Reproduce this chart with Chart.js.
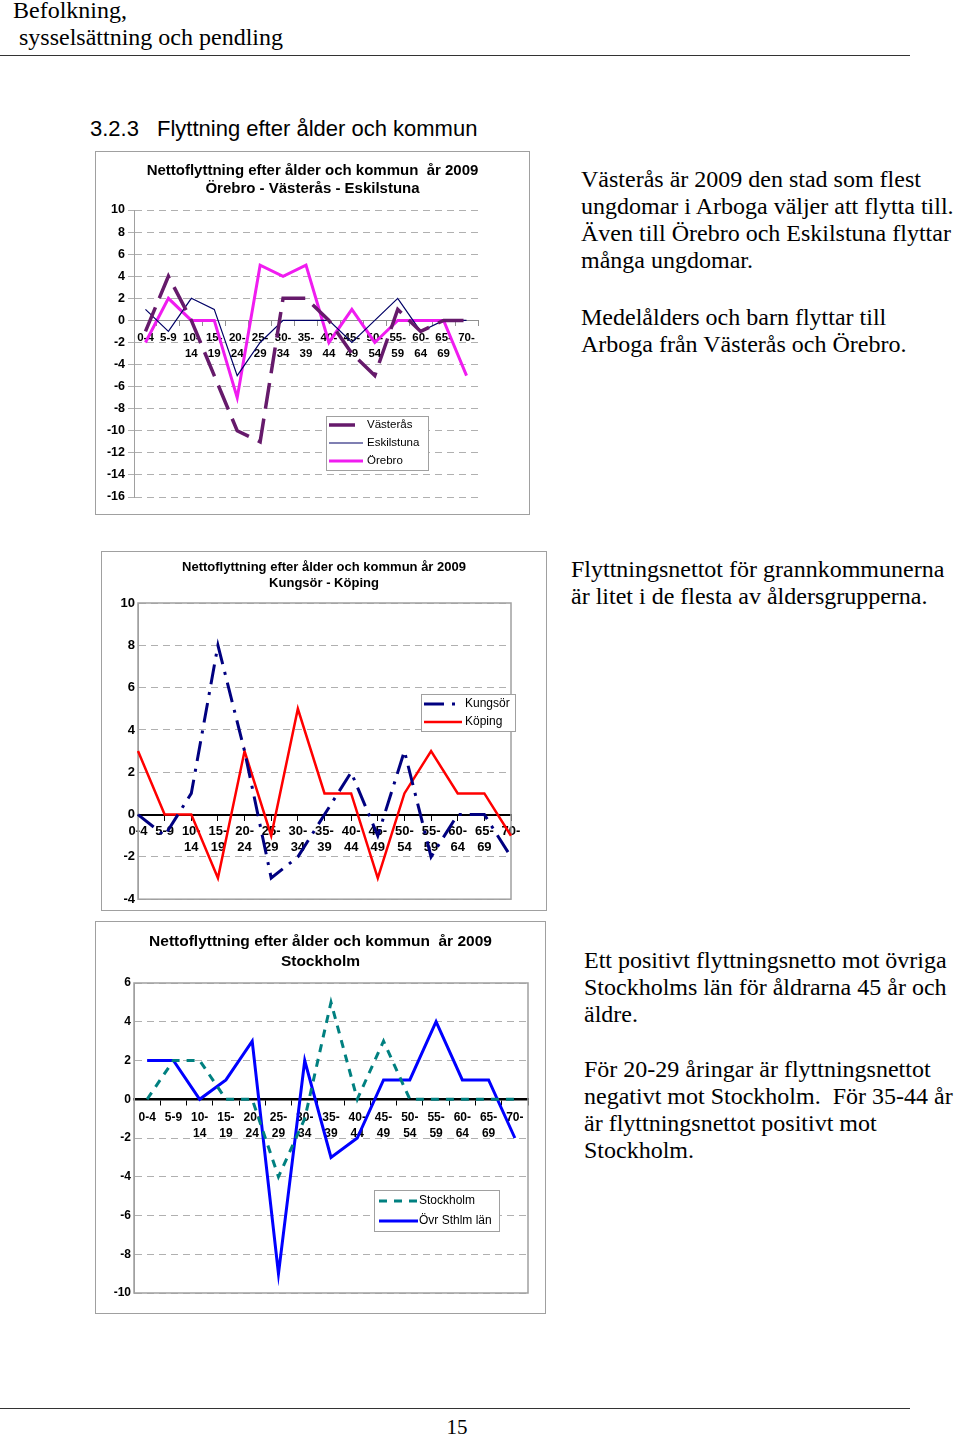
<!DOCTYPE html>
<html>
<head>
<meta charset="utf-8">
<script src="https://cdn.jsdelivr.net/npm/chart.js@4.4.0/dist/chart.umd.min.js"></script>
<style>
  body { margin: 0; width: 960px; height: 1438px; position: relative; background: #fff; overflow: hidden; }
  .t { position: absolute; white-space: nowrap; font-family: "Liberation Serif", serif; font-size: 24px; line-height: 28px; color: #000; }
  .h { position: absolute; white-space: nowrap; font-family: "Liberation Sans", Arial, sans-serif; font-size: 22px; line-height: 26px; color: #000; }
  .box { position: absolute; border: 1px solid #a0a0a0; box-sizing: border-box; background: #fff; }
  .box canvas { display: block; }
  .rule { position: absolute; left: 0; width: 910px; height: 0; border-top: 1px solid #333; }
</style>
</head>
<body>

<div class="t" style="left:13px;top:-4px">Befolkning,</div>
<div class="t" style="left:13px;top:23px">&nbsp;sysselsättning och pendling</div>
<div class="rule" style="top:55px"></div>

<div class="h" style="left:90px;top:116px">3.2.3</div>
<div class="h" style="left:157px;top:116px">Flyttning efter ålder och kommun</div>

<div class="box" style="left:95px;top:151px;width:435px;height:364px"><canvas id="c1" width="433" height="362"></canvas></div>
<div class="box" style="left:101px;top:551px;width:446px;height:360px"><canvas id="c2" width="444" height="358"></canvas></div>
<div class="box" style="left:95px;top:921px;width:451px;height:393px"><canvas id="c3" width="449" height="391"></canvas></div>

<div class="t" style="left:581px;top:165px">Västerås är 2009 den stad som flest</div>
<div class="t" style="left:581px;top:192px">ungdomar i Arboga väljer att flytta till.</div>
<div class="t" style="left:581px;top:219px">Även till Örebro och Eskilstuna flyttar</div>
<div class="t" style="left:581px;top:246px">många ungdomar.</div>
<div class="t" style="left:581px;top:303px">Medelålders och barn flyttar till</div>
<div class="t" style="left:581px;top:330px">Arboga från Västerås och Örebro.</div>

<div class="t" style="left:571px;top:555px">Flyttningsnettot för grannkommunerna</div>
<div class="t" style="left:571px;top:582px">är litet i de flesta av åldersgrupperna.</div>

<div class="t" style="left:584px;top:946px">Ett positivt flyttningsnetto mot övriga</div>
<div class="t" style="left:584px;top:973px">Stockholms län för åldrarna 45 år och</div>
<div class="t" style="left:584px;top:1000px">äldre.</div>
<div class="t" style="left:584px;top:1055px">För 20-29 åringar är flyttningsnettot</div>
<div class="t" style="left:584px;top:1082px">negativt mot Stockholm.&nbsp; För 35-44 år</div>
<div class="t" style="left:584px;top:1109px">är flyttningsnettot positivt mot</div>
<div class="t" style="left:584px;top:1136px">Stockholm.</div>

<div class="rule" style="top:1408px"></div>
<div class="t" style="left:417px;width:80px;text-align:center;top:1413px;font-size:21px">15</div>

<script>
// age groups (x categories)
const ageGroups = ['0-4', '5-9', '10-14', '15-19', '20-24', '25-29', '30-34', '35-39',
  '40-44', '45-49', '50-54', '55-59', '60-64', '65-69', '70-'];

// chart 1: Örebro - Västerås - Eskilstuna
const vasteras = [-1, 4, 0, -5, -10, -11, 2, 2, 0, -3, -5, 1, -1, 0, 0];
const eskilstuna = [1, -1, 2, 1, -5, -2, 0, 0, 0, -2, 0, 2, -1, 0, 0];
const orebro = [-2, 2, 0, 0, -7, 5, 4, 5, -2, 1, -2, 0, 0, 0, -5];
const yRange1 = [-16, 10];

// chart 2: Kungsör - Köping
const kungsor = [0, -1, 1, 8, 3, -3, -2, 0, 2, -1, 3, -2, 0, 0, -2];
const koping = [3, 0, 0, -3, 3, -1, 5, 1, 1, -3, 1, 3, 1, 1, -1];
const yRange2 = [-4, 10];

// chart 3: Stockholm
const stockholm = [0, 2, 2, 0, 0, -4, -1, 5, 0, 3, 0, 0, 0, 0, 0];
const ovrSthlm = [2, 2, 0, 1, 3, -9, 2, -3, -2, 1, 1, 4, 1, 1, -2];
const yRange3 = [-10, 6];

const FONT = 'Liberation Sans';

// split "10-14" into two lines like the original
function twoLines(v) {
  const s = this.getLabelForValue(v);
  const i = s.indexOf('-');
  return s.length > 3 ? [s.slice(0, i + 1), s.slice(i + 1)] : s;
}

// gray frame round the plot area
const plotFrame = {
  id: 'plotFrame',
  beforeDatasetsDraw(chart, args, o) {
    if (!o.color) return;
    const { left, top, right, bottom } = chart.chartArea;
    const ctx = chart.ctx;
    ctx.save();
    ctx.strokeStyle = o.color;
    ctx.lineWidth = 1.5;
    ctx.strokeRect(left, top, right - left, bottom - top);
    ctx.restore();
  }
};

// legend in a box inside the plot, like Excel
const boxLegend = {
  id: 'boxLegend',
  afterDatasetsDraw(chart, args, o) {
    const ctx = chart.ctx;
    ctx.save();
    ctx.fillStyle = '#fff';
    ctx.fillRect(o.x, o.y, o.w, o.h);
    ctx.strokeStyle = '#a0a0a0';
    ctx.lineWidth = 1;
    ctx.strokeRect(o.x + 0.5, o.y + 0.5, o.w, o.h);
    chart.data.datasets.forEach((ds, i) => {
      const y = o.y + o.first + i * o.row;
      ctx.beginPath();
      ctx.setLineDash(ds.borderDash || []);
      ctx.strokeStyle = ds.borderColor;
      ctx.lineWidth = ds.borderWidth;
      ctx.moveTo(o.x + o.lx, y);
      ctx.lineTo(o.x + o.lx + o.len, y);
      ctx.stroke();
      ctx.setLineDash([]);
      ctx.fillStyle = '#000';
      ctx.font = o.size + 'px ' + FONT;
      ctx.textBaseline = 'middle';
      ctx.fillText(ds.label, o.x + o.tx, y);
    });
    ctx.restore();
  }
};

function makeChart(id, cfg) {
  const ctx = document.getElementById(id);
  return new Chart(ctx, {
    type: 'line',
    data: { labels: ageGroups, datasets: cfg.datasets },
    plugins: [plotFrame, boxLegend],
    options: {
      responsive: false,
      animation: false,
      devicePixelRatio: 1,
      layout: { padding: { left: 0, right: 0, top: 0, bottom: cfg.bottom } },
      elements: { point: { radius: 0 }, line: { tension: 0 } },
      plugins: {
        legend: { display: false },
        tooltip: { enabled: false },
        title: {
          display: true,
          text: cfg.title,
          color: '#000',
          font: { family: FONT, size: cfg.titleSize, weight: 'bold', lineHeight: cfg.titleLine + 'px' },
          padding: cfg.titlePad
        },
        plotFrame: { color: cfg.frame },
        boxLegend: cfg.legend
      },
      scales: {
        x: {
          type: 'category',
          position: { y: 0 },
          offset: cfg.offset,
          grid: { drawOnChartArea: false, drawTicks: true, tickLength: 5, color: cfg.axisColor, offset: cfg.offset },
          border: { color: cfg.axisColor, width: cfg.axisWidth },
          ticks: {
            autoSkip: false, maxRotation: 0, minRotation: 0,
            padding: cfg.xPad, color: '#000',
            font: { family: FONT, size: cfg.xSize, weight: 'bold', lineHeight: '16px' },
            callback: twoLines
          }
        },
        y: {
          min: cfg.yRange[0],
          max: cfg.yRange[1],
          afterFit: s => { s.width = cfg.yWidth; },
          grid: { color: '#b0b0b0', drawTicks: cfg.yTicks, tickLength: 6 },
          border: { color: '#a0a0a0', width: 1, dash: [7, 5] },
          ticks: {
            stepSize: 2, color: '#000', padding: 3,
            font: { family: FONT, size: cfg.ySize, weight: 'bold' }
          }
        },
        // empty right margin that keeps the title centred on the whole box
        gap: {
          type: 'linear', position: 'right', min: 0, max: 1,
          grid: { display: false }, border: { display: false }, ticks: { display: false },
          afterFit: s => { s.width = cfg.right; }
        }
      }
    }
  });
}

makeChart('c1', {
  title: ['Nettoflyttning efter ålder och kommun  år 2009', 'Örebro - Västerås - Eskilstuna'],
  titleSize: 15, titleLine: 18, titlePad: { top: 10, bottom: 12 },
  right: 51, bottom: 17,
  yWidth: 38, yRange: yRange1, yTicks: true,
  offset: true, axisColor: '#909090', axisWidth: 1, xPad: 4, xSize: 11.5, ySize: 12.5,
  frame: null,
  legend: { x: 230, y: 264, w: 102, h: 54, first: 9, row: 18, lx: 3, len: 34, tx: 41, size: 11.5 },
  datasets: [
    { label: 'Västerås', data: vasteras, borderColor: '#661a6b', borderWidth: 3.5, borderDash: [26, 10] },
    { label: 'Eskilstuna', data: eskilstuna, borderColor: '#000066', borderWidth: 1.2 },
    { label: 'Örebro', data: orebro, borderColor: '#f01cf0', borderWidth: 3 }
  ]
});

makeChart('c2', {
  title: ['Nettoflyttning efter ålder och kommun år 2009', 'Kungsör - Köping'],
  titleSize: 13, titleLine: 16, titlePad: { top: 7, bottom: 12 },
  right: 35, bottom: 10,
  yWidth: 36, yRange: yRange2, yTicks: false,
  offset: false, axisColor: '#000', axisWidth: 2, xPad: 4, xSize: 13, ySize: 13,
  frame: '#a0a0a0',
  legend: { x: 319, y: 142, w: 94, h: 37, first: 10, row: 18, lx: 3, len: 38, tx: 44, size: 12 },
  datasets: [
    { label: 'Kungsör', data: kungsor, borderColor: '#000080', borderWidth: 3, borderDash: [20, 8, 3, 8] },
    { label: 'Köping', data: koping, borderColor: '#ff0000', borderWidth: 2.5 }
  ]
});

makeChart('c3', {
  title: ['Nettoflyttning efter ålder och kommun  år 2009', 'Stockholm'],
  titleSize: 15.5, titleLine: 20, titlePad: { top: 10, bottom: 11 },
  right: 17, bottom: 20,
  yWidth: 38, yRange: yRange3, yTicks: false,
  offset: true, axisColor: '#000', axisWidth: 2.5, xPad: 5, xSize: 12, ySize: 12,
  frame: '#a0a0a0',
  legend: { x: 278, y: 268, w: 125, h: 41, first: 11, row: 20, lx: 5, len: 39, tx: 45, size: 12 },
  datasets: [
    { label: 'Stockholm', data: stockholm, borderColor: '#008080', borderWidth: 3, borderDash: [8, 7] },
    { label: 'Övr Sthlm län', data: ovrSthlm, borderColor: '#0000ff', borderWidth: 3 }
  ]
});
</script>
</body>
</html>
